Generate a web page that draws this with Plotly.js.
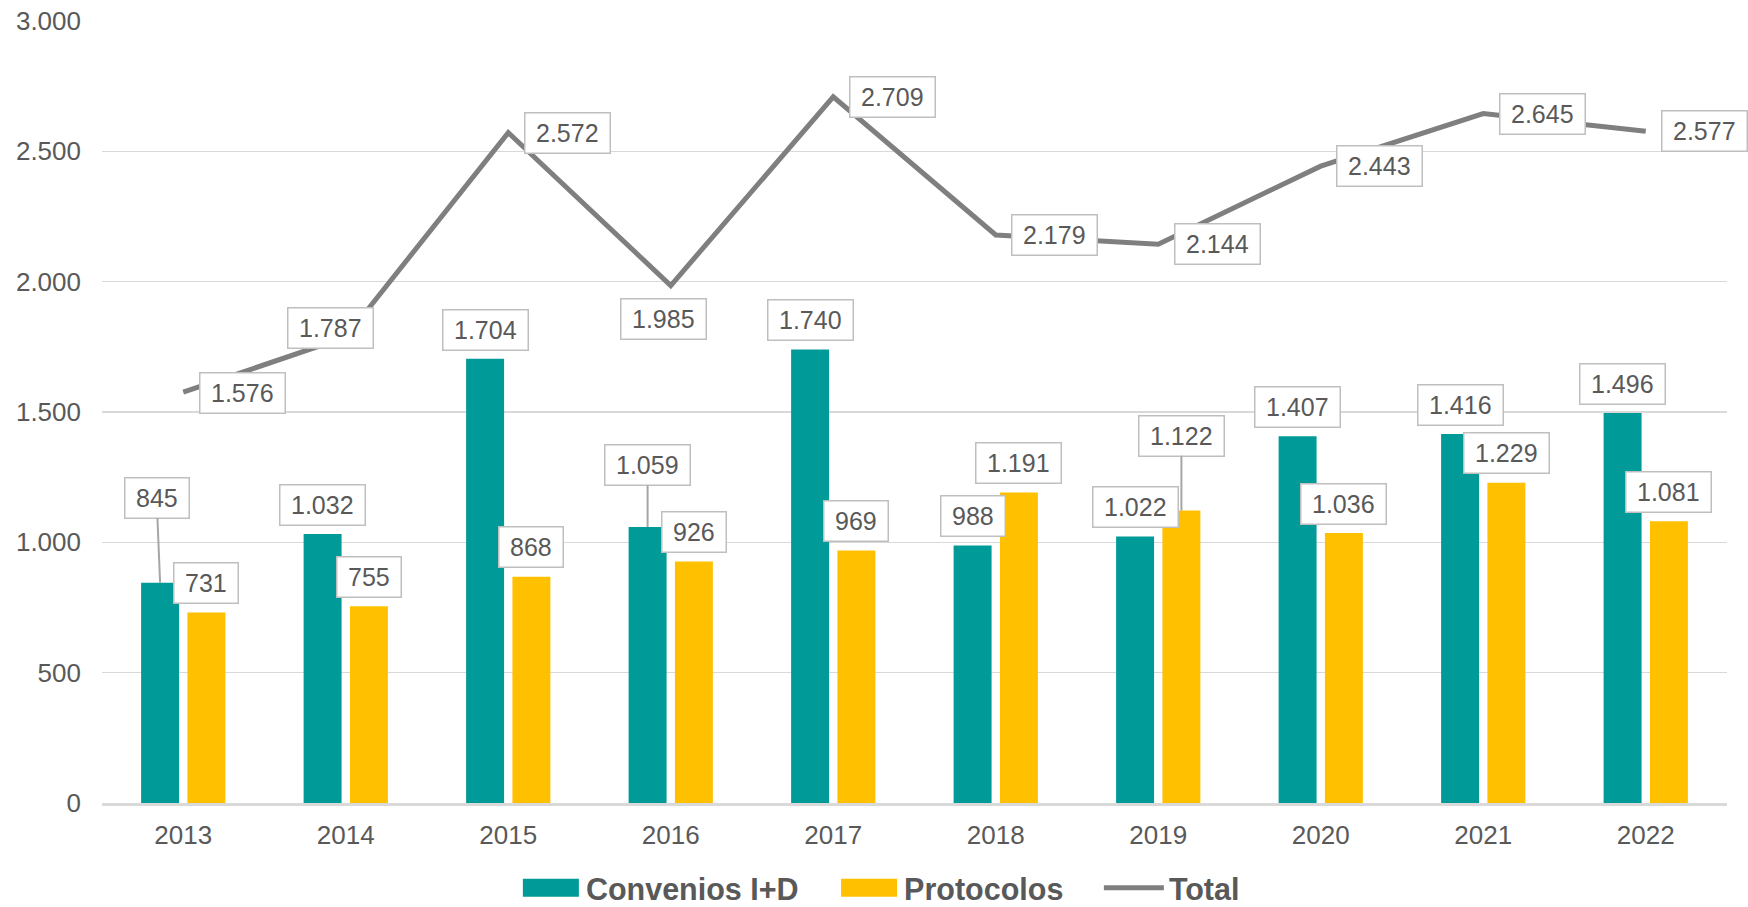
<!DOCTYPE html>
<html>
<head>
<meta charset="utf-8">
<script src="https://cdn.plot.ly/plotly-3.0.1.min.js"></script>
<style>
  html, body { margin: 0; padding: 0; background: #ffffff; }
  #chart { width: 1748px; height: 907px; }
</style>
</head>
<body>
<div id="chart"></div>
<script>
// ---- data ----
const years = ['2013', '2014', '2015', '2016', '2017', '2018', '2019', '2020', '2021', '2022'];
const convenios = [845, 1032, 1704, 1059, 1740, 988, 1022, 1407, 1416, 1496];
const protocolos = [731, 755, 868, 926, 969, 1191, 1122, 1036, 1229, 1081];
const totales = [1576, 1787, 2572, 1985, 2709, 2179, 2144, 2443, 2645, 2577];
const seriesNames = ['Convenios I+D', 'Protocolos', 'Total'];
const yTicks = [0, 500, 1000, 1500, 2000, 2500, 3000];

// ---- style ----
const FONT = 'Liberation Sans, Arial, Helvetica, sans-serif';
const TEXT = '#595959';
const TEAL = '#009A98';
const GOLD = '#FFC000';
const GREY = '#7F7F7F';
const GRID = '#D9D9D9';
const BOX = '#BFBFBF';
const LEADER = '#A6A6A6';

const margin = { l: 102, r: 21, t: 21, b: 104, autoexpand: false };
const bargap = 0.43;
const slotPx = (1748 - margin.l - margin.r) / years.length;
const barShift = slotPx * (1 - bargap) / 4;   // offset of each grouped bar from category centre

// label placement (pixel offsets from the data point), kept apart from the data
const convPlace = { 0: { ax: -3.5, ay: -85 }, 3: { ax: 0, ay: -62 } };
const protPlace = { 6: { ax: 0, ay: -75 } };
const totalPlace = { 0: { side: 'right', dy: -1 }, 1: { side: 'over', dx: -15, dy: 9.5 }, 3: { side: 'over', dx: -7, dy: -33 } };

function fmt(n) {
  return String(n).replace(/\B(?=(\d{3})+(?!\d))/g, '.');
}
const PAD = '\u2009';
function boxText(n) { return PAD + fmt(n) + PAD; }

const baseAnn = {
  xref: 'x', yref: 'y',
  font: { family: FONT, size: 25, color: TEXT },
  bgcolor: '#ffffff',
  bordercolor: BOX,
  borderwidth: 1.5,
  borderpad: 5.5
};

const annotations = [];
function barLabels(values, shift, place) {
  values.forEach((v, i) => {
    const p = place[i];
    if (p) {
      annotations.push(Object.assign({}, baseAnn, {
        x: i, y: v, text: boxText(v), xshift: shift,
        showarrow: true, arrowhead: 0, arrowwidth: 2, arrowcolor: LEADER,
        standoff: 0, startstandoff: 0,
        ax: p.ax, ay: p.ay, axref: 'pixel', ayref: 'pixel'
      }));
    } else {
      annotations.push(Object.assign({}, baseAnn, {
        x: i, y: v, text: boxText(v), xshift: shift, yshift: 29.3,
        showarrow: false, xanchor: 'center', yanchor: 'middle'
      }));
    }
  });
}
barLabels(convenios, -barShift, convPlace);
barLabels(protocolos, barShift, protPlace);

totales.forEach((v, i) => {
  const p = totalPlace[i] || { side: 'right', dy: 0 };
  if (p.side === 'right') {
    annotations.push(Object.assign({}, baseAnn, {
      x: i, y: v, text: boxText(v), showarrow: false,
      xanchor: 'left', yanchor: 'middle', xshift: 15.5, yshift: p.dy || 0
    }));
  } else {
    annotations.push(Object.assign({}, baseAnn, {
      x: i, y: v, text: boxText(v), showarrow: false,
      xanchor: 'center', yanchor: 'middle', xshift: p.dx, yshift: p.dy
    }));
  }
});

const GAP = '\u2003';
const traces = [
  {
    type: 'bar', name: seriesNames[0] + GAP, x: years, y: convenios,
    marker: { color: TEAL }, hoverinfo: 'x+y'
  },
  {
    type: 'bar', name: seriesNames[1] + GAP, x: years, y: protocolos,
    marker: { color: GOLD }, hoverinfo: 'x+y'
  },
  {
    type: 'scatter', mode: 'lines', name: seriesNames[2], x: years, y: totales,
    line: { color: GREY, width: 5 }, hoverinfo: 'x+y'
  }
];

const layout = {
  width: 1748, height: 907,
  margin: margin,
  paper_bgcolor: '#ffffff', plot_bgcolor: '#ffffff',
  font: { family: FONT, size: 25, color: TEXT },
  separators: ',.',
  barmode: 'group',
  bargap: bargap,
  bargroupgap: 0.18,
  showlegend: true,
  legend: {
    orientation: 'h', x: 0.479, xanchor: 'center', y: -0.1085, yanchor: 'middle',
    font: { family: FONT, size: 30.5, color: TEXT, weight: 'bold' },
    itemwidth: 60, traceorder: 'normal', itemclick: false, itemdoubleclick: false
  },
  xaxis: {
    type: 'category', range: [-0.5, years.length - 0.5], autorange: false,
    showgrid: false, zeroline: false,
    showline: true, linecolor: GRID, linewidth: 2.5,
    ticks: 'outside', ticklen: 7, tickcolor: 'rgba(0,0,0,0)',
    tickfont: { family: FONT, size: 26, color: TEXT }
  },
  yaxis: {
    range: [0, 3000], autorange: false, tickvals: yTicks, tickformat: ',d',
    showgrid: true, gridcolor: GRID, gridwidth: 1.5,
    zeroline: false, showline: false, ticks: '', ticklabelstandoff: 20,
    tickfont: { family: FONT, size: 26, color: TEXT }
  },
  annotations: annotations
};

Plotly.newPlot('chart', traces, layout, { displayModeBar: false, staticPlot: true }).then(function (gd) {
  // widen legend swatches to match the original
  gd.querySelectorAll('.legend path.legendundefined, .legend path.legendbar').forEach(function (p) {
    p.setAttribute('d', 'M-28,9H28V-9H-28Z');
  });
});
</script>
</body>
</html>
